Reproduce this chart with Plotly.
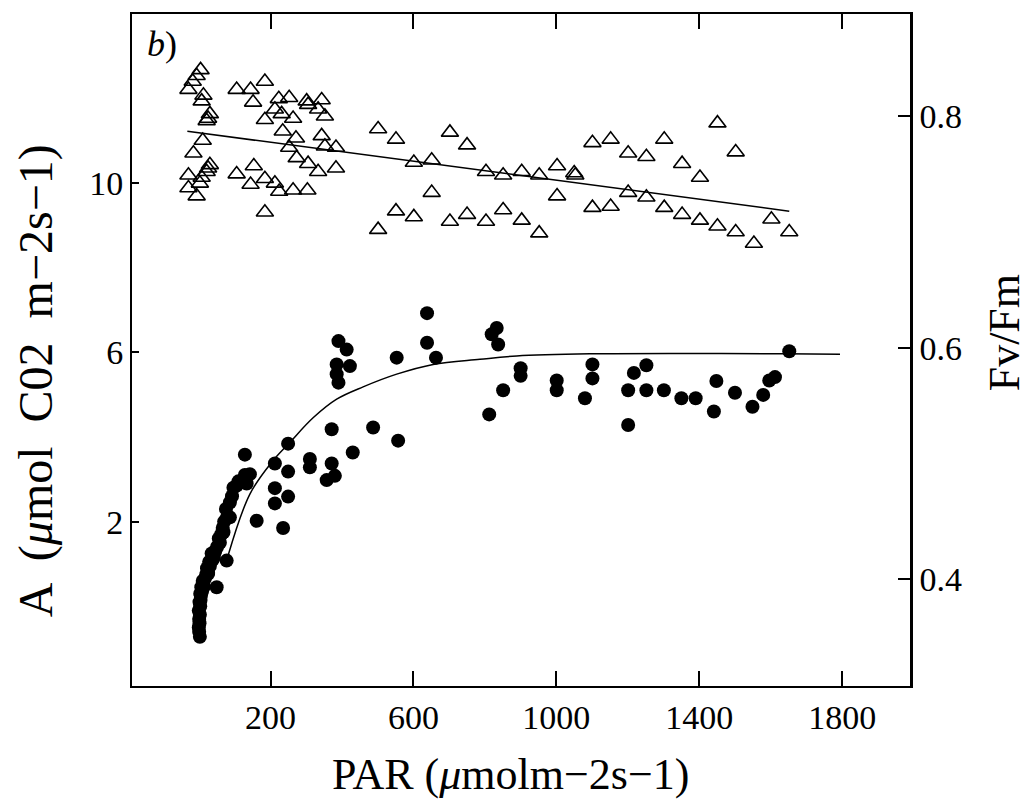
import plotly.graph_objects as go

# Fv/Fm (open triangles, right axis)
tri_par = [4, -7, -18, -30, 12, 7, 30, 25, 21, 10, -16, 30, 25, 21, -30, 7, 2, -30, -7,
           105, 144, 184, 151, 223, 252, 212, 231, 184, 263, 301, 305, 343, 333, 352,
           234, 271, 252, 343, 352, 383, 273, 305, 333, 383, 153, 105, 184, 144, 212,
           224, 263, 303, 184,
           501, 551, 702, 750, 601, 651, 803, 851, 903, 651, 501, 551, 601, 702, 750,
           803, 851, 903, 952, 952, 1002, 1050, 1053, 1002, 1101, 1152, 1201, 1252,
           1302, 1352, 1402, 1451, 1502, 1101, 1152, 1201, 1252, 1302, 1352, 1402,
           1451, 1502, 1553, 1602, 1652]
tri_fvfm = [0.840, 0.835, 0.830, 0.823, 0.818, 0.813, 0.802, 0.798, 0.796, 0.779, 0.768,
            0.758, 0.755, 0.752, 0.749, 0.747, 0.742, 0.738, 0.731,
            0.823, 0.823, 0.830, 0.812, 0.815, 0.816, 0.806, 0.802, 0.797, 0.798, 0.813,
            0.810, 0.814, 0.806, 0.800, 0.787, 0.781, 0.773, 0.783, 0.774, 0.773, 0.764,
            0.759, 0.752, 0.755, 0.757, 0.750, 0.746, 0.741, 0.742, 0.735, 0.736, 0.736,
            0.717,
            0.789, 0.780, 0.786, 0.775, 0.760, 0.762, 0.752, 0.749, 0.752, 0.734, 0.702,
            0.718, 0.713, 0.709, 0.715, 0.709, 0.719, 0.710, 0.699, 0.749, 0.757, 0.751,
            0.749, 0.731, 0.777, 0.780, 0.768, 0.765, 0.780, 0.759, 0.747, 0.794, 0.769,
            0.721, 0.722, 0.734, 0.730, 0.721, 0.715, 0.710, 0.705, 0.700, 0.690, 0.711,
            0.700]

# regression line for Fv/Fm, read at its two ends
tri_fit_par = [-33, 1652]
tri_fit_fvfm = [0.787, 0.718]

# net assimilation A (filled circles, left axis)
circ_par = [2, 0, -1, 1, 0, 2, -1, 3, 1, 4, 5, 3, 8, 6, 12, 10, 16, 20, 25, 22, 30, 28,
            38, 40, 45, 35, 50, 58, 55, 62, 68, 66, 70, 78, 75, 86, 92, 96, 105, 110,
            128, 133, 142, 128, 41, 77, 49, 12, 25, 86,
            638, 638, 663, 553, 390, 413, 385, 422, 385, 390, 371, 487, 557, 430, 249,
            310, 310, 371, 380, 357, 249, 212, 212, 249, 212, 161, 235,
            833, 819, 837, 851, 812, 900, 900, 1001, 1001, 1080, 1101, 1101, 1201, 1201,
            1217, 1252, 1252, 1301, 1350, 1390, 1448, 1441, 1500, 1549, 1579, 1596,
            1612, 1652]
circ_a = [-0.72, -0.6, -0.5, -0.4, -0.3, -0.2, -0.1, 0.0, 0.1, 0.15, 0.25, 0.3, 0.35,
          0.45, 0.5, 0.6, 0.65, 0.75, 0.8, 0.9, 0.95, 1.05, 1.1, 1.2, 1.3, 1.25, 1.4, 1.5,
          1.6, 1.7, 1.75, 1.85, 2.0, 2.1, 2.3, 2.45, 2.6, 2.8, 2.85, 2.95, 3.1, 2.9, 3.12,
          3.58, 1.16, 1.08, 0.45, 0.45, 0.77, 2.1,
          6.92, 6.22, 5.87, 5.87, 6.26, 6.06, 5.71, 5.67, 5.48, 5.28, 4.18, 4.22, 3.91,
          3.63, 3.84, 3.48, 3.28, 3.37, 3.08, 2.98, 3.18, 3.37, 2.79, 2.59, 2.43, 2.02,
          1.85,
          6.57, 6.42, 6.18, 5.10, 4.53, 5.62, 5.44, 5.33, 5.10, 4.91, 5.71, 5.38, 5.10,
          4.28, 5.51, 5.69, 5.10, 5.10, 4.91, 4.91, 5.32, 4.60, 5.04, 4.71, 4.99, 5.33,
          5.41, 6.02]

# light response curve
curve_par = [81, 142, 203, 254, 319, 385, 459, 553, 655, 786, 889, 1094, 1355, 1635, 1794]
curve_a = [1.20, 2.65, 3.40, 3.87, 4.45, 4.89, 5.18, 5.48, 5.71, 5.83, 5.91, 5.96, 5.97,
           5.96, 5.95]

FONT = 'Liberation Serif'

fig = go.Figure()
fig.add_trace(go.Scatter(x=circ_par, y=circ_a, mode='markers',
                         marker={'symbol': 'circle', 'size': 14, 'color': 'black'},
                         showlegend=False))
fig.add_trace(go.Scatter(x=curve_par, y=curve_a, mode='lines', line_shape='spline',
                         line={'color': 'black', 'width': 1.5}, showlegend=False))
fig.add_trace(go.Scatter(x=tri_par, y=tri_fvfm, mode='markers', yaxis='y2',
                         marker={'symbol': 'triangle-up-open', 'size': 15,
                                 'color': 'black', 'line': {'width': 1.6}},
                         showlegend=False))
fig.add_trace(go.Scatter(x=tri_fit_par, y=tri_fit_fvfm, mode='lines', yaxis='y2',
                         line={'color': 'black', 'width': 1.5}, showlegend=False))


def label(text, x, y, size, angle=0):
    return {'text': text, 'xref': 'paper', 'yref': 'paper', 'x': x, 'y': y,
            'xanchor': 'center', 'yanchor': 'middle', 'textangle': angle,
            'showarrow': False, 'font': {'size': size}}


fig.update_layout(
    width=1033, height=805,
    margin={'l': 124, 'r': 131, 't': 4, 'b': 127},
    plot_bgcolor='white', paper_bgcolor='white',
    font={'family': FONT, 'size': 34, 'color': 'black'},
    xaxis={'range': [-188, 1990], 'tickvals': [200, 600, 1000, 1400, 1800],
           'ticks': 'inside', 'ticklen': 15, 'tickwidth': 1.5, 'tickcolor': 'black',
           'showline': True, 'linecolor': 'black', 'linewidth': 2, 'mirror': 'ticks',
           'showgrid': False, 'zeroline': False},
    yaxis={'range': [-1.88, 13.98], 'tickvals': [2, 6, 10],
           'ticks': 'inside', 'ticklen': 7, 'tickwidth': 1.5, 'tickcolor': 'black',
           'showline': True, 'linecolor': 'black', 'linewidth': 2,
           'showgrid': False, 'zeroline': False},
    yaxis2={'range': [0.3078, 0.8883], 'tickvals': [0.4, 0.6, 0.8],
            'ticktext': ['0.4', '0.6', '0.8'], 'overlaying': 'y', 'side': 'right',
            'ticks': 'inside', 'ticklen': 12, 'tickwidth': 1.5, 'tickcolor': 'black',
            'showline': True, 'linecolor': 'black', 'linewidth': 2.5,
            'showgrid': False, 'zeroline': False},
    annotations=[
        label('<i>b</i>)', 0.038, 0.955, 36),
        label('PAR (<i>μ</i>molm−2s−1)', 0.486, -0.132, 44),
        label('A  (<i>μ</i>mol  C02  m−2s−1)', -0.123, 0.454, 48, -90),
        label('Fv/Fm', 1.121, 0.525, 44, -90),
    ],
)

fig.write_html('out.html')
